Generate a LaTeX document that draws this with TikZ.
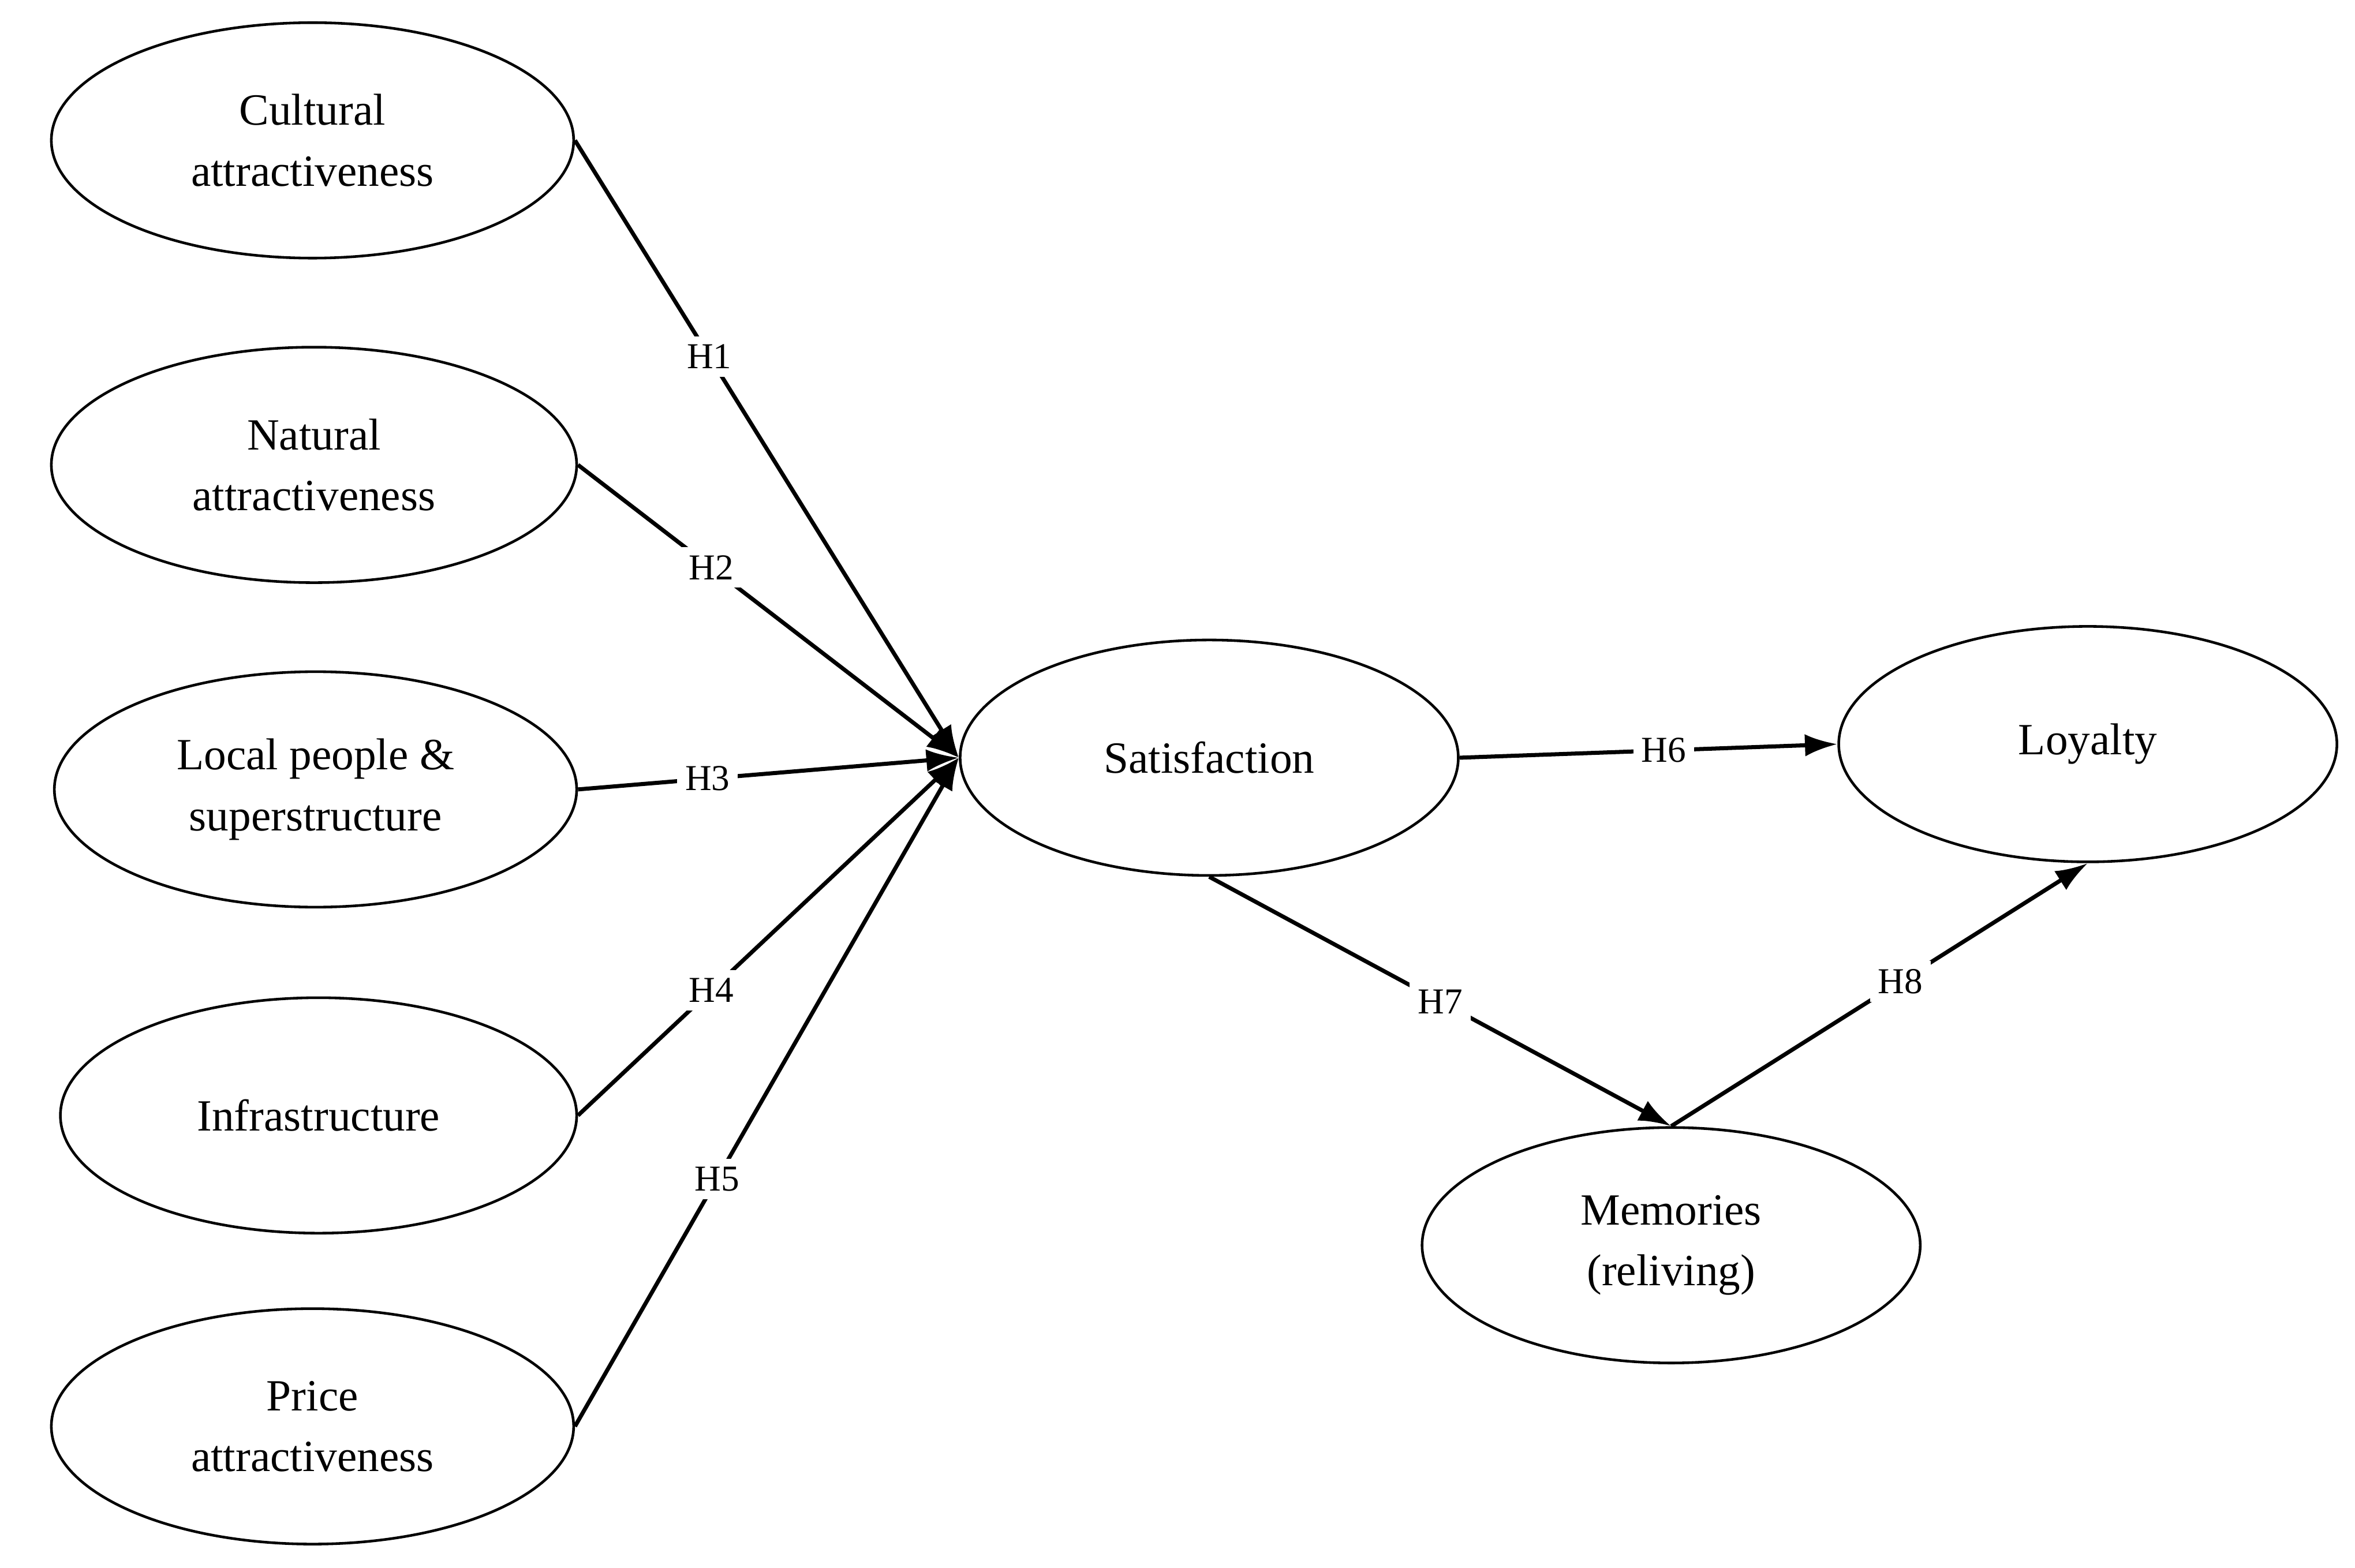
\documentclass[tikz,border=0pt]{standalone}
\usepackage{fontspec}
\setmainfont{Liberation Serif}
\usetikzlibrary{shapes.geometric,arrows.meta}
\begin{document}
\begin{tikzpicture}[x=0.02615cm,y=-0.02615cm,
  el/.style={ellipse,draw,line width=1.3pt,inner sep=0pt,align=center,font=\fontsize{22}{30}\selectfont},
  ln/.style={line width=2pt,-{Latex[length=16pt,width=11pt]}},
  lb/.style={fill=white,inner sep=4pt,font=\fontsize{18}{20}\selectfont}]
\useasboundingbox[fill=white] (0,0) rectangle (1560,1038.6);
\node[el,minimum width=346*0.02615cm,minimum height=156*0.02615cm] (cul) at (207,93) {Cultural\\attractiveness};
\node[el,minimum width=348*0.02615cm,minimum height=156*0.02615cm] (nat) at (208,308) {Natural\\attractiveness};
\node[el,minimum width=346*0.02615cm,minimum height=156*0.02615cm] (loc) at (209,523) {Local people \&\\superstructure};
\node[el,minimum width=342*0.02615cm,minimum height=156*0.02615cm] (inf) at (211,739) {Infrastructure};
\node[el,minimum width=346*0.02615cm,minimum height=156*0.02615cm] (pri) at (207,945) {Price\\attractiveness};
\node[el,minimum width=330*0.02615cm,minimum height=156*0.02615cm] (sat) at (801,502) {Satisfaction};
\node[el,minimum width=330*0.02615cm,minimum height=156*0.02615cm] (loy) at (1383,493) {Loyalty};
\node[el,minimum width=330*0.02615cm,minimum height=156*0.02615cm] (mem) at (1107,825) {Memories\\(reliving)};
\draw[ln] (cul.east) -- node[lb,pos=0.35]{H1} (sat.west);
\draw[ln] (nat.east) -- node[lb,pos=0.35]{H2} (sat.west);
\draw[ln] (loc.east) -- node[lb,pos=0.34]{H3} (sat.west);
\draw[ln] (inf.east) -- node[lb,pos=0.35]{H4} (sat.west);
\draw[ln] (pri.east) -- node[lb,pos=0.37]{H5} (sat.west);
\draw[ln] (sat.east) -- node[lb,pos=0.54]{H6} (loy.west);
\draw[ln] (sat.south) -- node[lb,pos=0.5]{H7} (mem.north);
\draw[ln] (mem.north) -- node[lb,pos=0.55]{H8} (loy.south);
\end{tikzpicture}
\end{document}
